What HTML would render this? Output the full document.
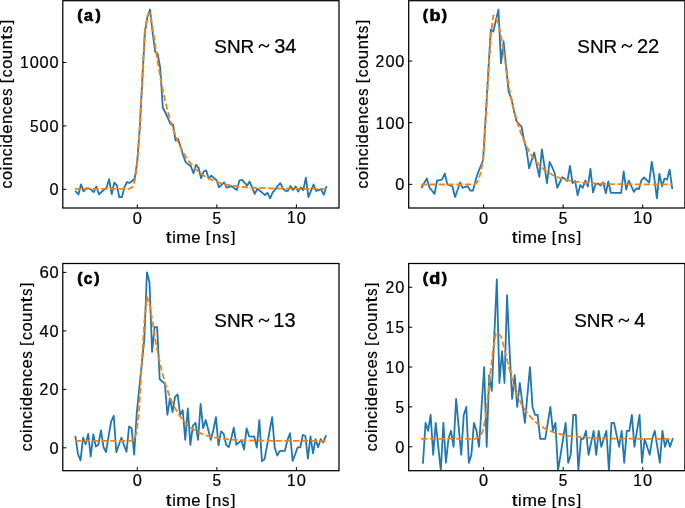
<!DOCTYPE html>
<html><head><meta charset="utf-8"><title>Coincidence histograms</title>
<style>html,body{margin:0;padding:0;background:#fff;}svg{display:block;will-change:transform;}text{font-family:"Liberation Sans",sans-serif;}</style>
</head><body>
<svg width="685" height="508" viewBox="0 0 685 508">
<rect width="685" height="508" fill="#fff"/>
<defs>
<clipPath id="clipa"><rect x="62.8" y="0.7" width="276.2" height="207.3"/></clipPath>
<clipPath id="clipb"><rect x="408.7" y="0.7" width="276.2" height="207.3"/></clipPath>
<clipPath id="clipc"><rect x="62.8" y="263.5" width="276.2" height="207.2"/></clipPath>
<clipPath id="clipd"><rect x="408.7" y="263.5" width="276.2" height="207.2"/></clipPath>
</defs>
<g clip-path="url(#clipa)">
<polyline points="75.9,191.6 78.46,194.5 81.01,184.3 83.57,191.4 86.12,188.2 88.68,188.3 91.23,189.8 93.79,192.2 96.34,186.5 98.9,194.2 101.45,192 104.01,189.8 106.56,187.7 109.12,179.2 111.67,194.2 114.23,182.7 116.78,185.1 119.34,197.2 121.89,197.2 124.45,187.1 127,182 129.56,183 132.11,181 134.67,178.5 137.22,162 139.78,128 142.33,80 144.88,32 147.44,17 150,9.5 152.55,32 155.11,51.5 157.66,54 160.22,68 162.77,107.5 165.33,112.5 167.88,118 170.44,124 172.99,124.3 175.55,140.5 178.1,139 180.66,147 183.21,155.5 185.77,162.4 188.32,164.4 190.88,166.3 193.43,173.2 195.99,164.8 198.54,167.8 201.1,178.3 203.65,171.5 206.21,170.4 208.76,178.7 211.32,175.6 213.87,177.9 216.43,180 218.98,187.3 221.54,184.8 224.09,182.4 226.65,187.6 229.2,186.9 231.76,186.2 234.31,188.3 236.87,190.1 239.42,180.5 241.98,179.8 244.53,182.7 247.09,185.7 249.64,181.5 252.2,187.7 254.75,193.9 257.31,188.8 259.86,190.8 262.42,192.9 264.97,195 267.52,192.8 270.08,198.4 272.63,192.5 275.19,189.4 277.75,186 280.3,183.2 282.86,188.4 285.41,190.8 287.97,190.8 290.52,186 293.08,190.1 295.63,186.5 298.19,191.5 300.74,187.4 303.3,190 305.85,177.6 308.41,197.2 310.96,190.8 313.51,184.5 316.07,191 318.62,190.1 321.18,189.2 323.74,194.8 326.29,187.1" fill="none" stroke="#1f77b4" stroke-width="1.8" stroke-linejoin="round" stroke-linecap="square"/>
<polyline points="74.9,188.87 75.9,188.87 78.46,188.87 81.01,188.87 83.57,188.87 86.12,188.87 88.68,188.87 91.23,188.87 93.79,188.87 96.34,188.87 98.9,188.87 101.45,188.87 104.01,188.87 106.56,188.87 109.12,188.87 111.67,188.87 114.23,188.87 116.78,188.87 119.34,188.87 121.89,188.87 124.45,188.87 127,188.84 129.56,188.63 132.11,187.27 134.67,181.32 137.22,163.51 139.78,127.14 142.33,77.2 144.88,30 147.44,15.5 150,13.3 152.55,27.53 155.11,45.06 157.66,61.75 160.22,76.67 162.77,89.86 165.33,101.51 167.88,111.78 170.44,120.85 172.99,128.85 175.55,135.9 178.1,142.13 180.66,147.63 183.21,152.48 185.77,156.76 188.32,160.53 190.88,163.87 193.43,166.81 195.99,169.4 198.54,171.69 201.1,173.71 203.65,175.49 206.21,177.07 208.76,178.45 211.32,179.68 213.87,180.76 216.43,181.71 218.98,182.55 221.54,183.3 224.09,183.95 226.65,184.53 229.2,185.04 231.76,185.49 234.31,185.89 236.87,186.24 239.42,186.55 241.98,186.82 244.53,187.06 247.09,187.27 249.64,187.46 252.2,187.63 254.75,187.77 257.31,187.9 259.86,188.01 262.42,188.12 264.97,188.2 267.52,188.28 270.08,188.35 272.63,188.41 275.19,188.47 277.75,188.51 280.3,188.55 282.86,188.59 285.41,188.62 287.97,188.65 290.52,188.68 293.08,188.7 295.63,188.72 298.19,188.74 300.74,188.75 303.3,188.77 305.85,188.78 308.41,188.79 310.96,188.8 313.51,188.81 316.07,188.81 318.62,188.82 321.18,188.83 323.74,188.83 326.29,188.83" fill="none" stroke="#ff7f0e" stroke-width="1.8" stroke-dasharray="6.1 2.7" stroke-linejoin="round"/>
</g>
<g clip-path="url(#clipb)">
<polyline points="421.8,187.2 424.36,182.8 426.91,178.5 429.47,187.6 432.02,190.7 434.57,193.9 437.13,180.5 439.69,180.1 442.24,179.3 444.8,173.4 447.35,184.4 449.91,185.5 452.46,186.5 455.01,197 457.57,190 460.12,182.4 462.68,188 465.24,186.8 467.79,186.4 470.35,190.7 472.9,190.7 475.46,181 478.01,172.6 480.56,166.5 483.12,160 485.68,117 488.23,73 490.79,29.6 493.34,31.6 495.89,20.4 498.45,9.6 501,63.3 503.56,41.5 506.12,66.6 508.67,92.2 511.23,98.1 513.78,110 516.34,120.7 518.89,123.8 521.45,126.5 524,140 526.56,150 529.11,168.3 531.66,160 534.22,152.5 536.77,165 539.33,176.9 541.88,149.4 544.44,166 547,183.2 549.55,162 552.11,167 554.66,173 557.22,187.9 559.77,182.5 562.33,177.1 564.88,179 567.44,181 569.99,165.8 572.55,183 575.1,181 577.65,195.3 580.21,185 582.76,187.9 585.32,180.5 587.88,186.5 590.43,168.7 592.99,192.4 595.54,184.5 598.1,183.5 600.65,185.5 603.21,182.5 605.76,193.3 608.32,181.5 610.87,192.9 613.42,192.9 615.98,192.9 618.54,192.9 621.09,193 623.64,171.3 626.2,189.5 628.75,180.7 631.31,186 633.87,191.9 636.42,188.4 638.98,189 641.53,180.1 644.09,177.5 646.64,180.1 649.2,182.5 651.75,161.8 654.31,178 656.86,198.3 659.41,173.9 661.97,186.4 664.53,178.5 667.08,179.5 669.63,169.7 672.19,188.3" fill="none" stroke="#1f77b4" stroke-width="1.8" stroke-linejoin="round" stroke-linecap="square"/>
<polyline points="421.1,184.48 421.8,184.48 424.36,184.48 426.91,184.48 429.47,184.48 432.02,184.48 434.57,184.48 437.13,184.48 439.69,184.48 442.24,184.48 444.8,184.48 447.35,184.48 449.91,184.48 452.46,184.48 455.01,184.48 457.57,184.48 460.12,184.48 462.68,184.48 465.24,184.48 467.79,184.48 470.35,184.46 472.9,184.35 475.46,183.75 478.01,181.18 480.56,173.04 483.12,159.5 485.68,119.81 488.23,75.96 490.79,35.78 493.34,15.5 495.89,17.5 498.45,24 501,35.5 503.56,51 506.12,68 508.67,86.05 511.23,98.55 513.78,109.46 516.34,118.99 518.89,127.31 521.45,134.57 524,140.9 526.56,146.44 529.11,151.27 531.66,155.49 534.22,159.17 536.77,162.38 539.33,165.19 541.88,167.64 544.44,169.78 547,171.64 549.55,173.27 552.11,174.7 554.66,175.94 557.22,177.02 559.77,177.97 562.33,178.8 564.88,179.52 567.44,180.15 569.99,180.7 572.55,181.18 575.1,181.6 577.65,181.96 580.21,182.28 582.76,182.56 585.32,182.8 587.88,183.02 590.43,183.2 592.99,183.36 595.54,183.51 598.1,183.63 600.65,183.74 603.21,183.83 605.76,183.91 608.32,183.98 610.87,184.05 613.42,184.1 615.98,184.15 618.54,184.19 621.09,184.23 623.64,184.26 626.2,184.29 628.75,184.31 631.31,184.33 633.87,184.35 636.42,184.37 638.98,184.38 641.53,184.39 644.09,184.4 646.64,184.41 649.2,184.42 651.75,184.43 654.31,184.44 656.86,184.44 659.41,184.45 661.97,184.45 664.53,184.45 667.08,184.46 669.63,184.46 672.19,184.46" fill="none" stroke="#ff7f0e" stroke-width="1.8" stroke-dasharray="6.1 2.7" stroke-linejoin="round"/>
</g>
<g clip-path="url(#clipc)">
<polyline points="75.4,436.7 77.96,454 80.51,460.4 83.07,437.7 85.62,444.1 88.18,433.8 90.73,456.5 93.29,434.3 95.84,446.6 98.4,444.5 100.95,430.4 103.51,447 106.06,452.1 108.62,436 111.17,421.5 113.73,415.8 116.28,452.1 118.84,445 121.39,437.7 123.95,445 126.5,451.9 129.06,426.5 131.61,428.3 134.17,454.7 136.72,413.3 139.28,388 141.83,363.6 144.38,338.4 146.94,272.3 149.5,282.3 152.05,351.8 154.61,327.2 157.16,327.2 159.72,379.3 162.27,381.5 164.83,383.8 167.38,414.8 169.94,398.3 172.49,412.1 175.05,396.9 177.6,394.5 180.16,415 182.71,410.2 185.27,439.8 187.82,408.5 190.38,444.9 192.93,425.5 195.49,422.8 198.04,439.8 200.6,404 203.15,428.2 205.71,420 208.26,429.8 210.82,439.8 213.37,430 215.93,417.2 218.48,445.4 221.04,431.3 223.59,433.6 226.15,444.8 228.7,447.2 231.26,438.3 233.81,427.7 236.37,444.8 238.92,442.5 241.48,440.1 244.03,449.6 246.59,428.3 249.14,436.3 251.7,436.6 254.25,436.4 256.81,447.5 259.36,420.1 261.92,461.1 264.47,459.3 267.02,446 269.58,431 272.13,417.1 274.69,447.5 277.25,455.6 279.8,450.8 282.36,450.8 284.91,450.8 287.47,440 290.02,433.3 292.58,460.9 295.13,454.4 297.69,447.3 300.24,447.3 302.8,434.9 305.35,436 307.91,458.7 310.46,436.5 313.01,453.3 315.57,439.2 318.12,447.3 320.68,439.2 323.24,442.5 325.79,436" fill="none" stroke="#1f77b4" stroke-width="1.8" stroke-linejoin="round" stroke-linecap="square"/>
<polyline points="75,440.92 75.4,440.92 77.96,440.92 80.51,440.92 83.07,440.92 85.62,440.92 88.18,440.92 90.73,440.92 93.29,440.92 95.84,440.92 98.4,440.92 100.95,440.92 103.51,440.92 106.06,440.92 108.62,440.92 111.17,440.92 113.73,440.92 116.28,440.92 118.84,440.92 121.39,440.92 123.95,440.92 126.5,440.92 129.06,440.91 131.61,440.76 134.17,439.38 136.72,431.67 139.28,406.97 141.83,361.95 144.38,322 146.94,296.5 149.5,303.83 152.05,319.44 154.61,335.56 157.16,349.86 159.72,362.23 162.27,372.93 164.83,382.17 167.38,390.16 169.94,397.06 172.49,403.02 175.05,408.17 177.6,412.63 180.16,416.47 182.71,419.8 185.27,422.67 187.82,425.15 190.38,427.29 192.93,429.14 195.49,430.74 198.04,432.13 200.6,433.32 203.15,434.35 205.71,435.25 208.26,436.02 210.82,436.68 213.37,437.26 215.93,437.76 218.48,438.19 221.04,438.56 223.59,438.88 226.15,439.16 228.7,439.39 231.26,439.6 233.81,439.78 236.37,439.93 238.92,440.07 241.48,440.18 244.03,440.28 246.59,440.37 249.14,440.44 251.7,440.51 254.25,440.56 256.81,440.61 259.36,440.65 261.92,440.69 264.47,440.72 267.02,440.75 269.58,440.77 272.13,440.79 274.69,440.81 277.25,440.82 279.8,440.83 282.36,440.85 284.91,440.86 287.47,440.86 290.02,440.87 292.58,440.88 295.13,440.88 297.69,440.89 300.24,440.89 302.8,440.89 305.35,440.9 307.91,440.9 310.46,440.9 313.01,440.9 315.57,440.91 318.12,440.91 320.68,440.91 323.24,440.91 325.79,440.91" fill="none" stroke="#ff7f0e" stroke-width="1.8" stroke-dasharray="6.1 2.7" stroke-linejoin="round"/>
</g>
<g clip-path="url(#clipd)">
<polyline points="423,462.75 425.55,422.88 428.09,430.85 430.64,414.9 433.19,454.78 435.74,422.88 438.28,446.8 440.83,470.73 443.38,422.88 445.92,462.75 448.47,438.82 451.02,430.85 453.56,446.8 456.11,398.95 458.66,426.86 461.2,454.78 463.75,414.9 466.3,406.93 468.85,462.75 471.39,454.78 473.94,422.88 476.49,430.85 479.03,446.8 481.58,406.93 484.13,367.05 486.68,446.8 489.22,375.03 491.77,390.98 494.32,335.15 496.86,279.33 499.41,383 501.96,351.1 504.5,383 507.05,295.27 509.6,351.1 512.14,398.95 514.69,375.03 517.24,406.93 519.79,383 522.33,402.94 524.88,422.88 527.43,394.96 529.97,367.05 532.52,406.93 535.07,414.9 537.62,414.9 540.16,438.82 542.71,438.82 545.26,438.82 547.8,422.88 550.35,406.93 552.9,430.85 555.44,422.88 557.99,470.73 560.54,454.78 563.09,438.82 565.63,422.88 568.18,462.75 570.73,454.78 573.27,414.9 575.82,414.9 578.37,470.73 580.91,438.82 583.46,438.82 586.01,430.85 588.56,454.78 591.1,442.81 593.65,430.85 596.2,454.78 598.74,430.85 601.29,446.8 603.84,438.82 606.38,430.85 608.93,470.73 611.48,422.88 614.02,422.88 616.57,434.84 619.12,446.8 621.67,430.85 624.21,462.75 626.76,430.85 629.31,430.85 631.85,414.9 634.4,446.8 636.95,430.85 639.5,414.9 642.04,462.75 644.59,438.82 647.14,446.8 649.68,454.78 652.23,438.82 654.78,430.85 657.32,446.8 659.87,462.75 662.42,430.85 664.97,446.8 667.51,438.82 670.06,446.8 672.61,438.82" fill="none" stroke="#1f77b4" stroke-width="1.8" stroke-linejoin="round" stroke-linecap="square"/>
<polyline points="421.1,438.84 421.8,438.84 424.36,438.84 426.91,438.84 429.47,438.84 432.02,438.84 434.57,438.84 437.13,438.84 439.69,438.84 442.24,438.84 444.8,438.84 447.35,438.84 449.91,438.84 452.46,438.84 455.01,438.84 457.57,438.84 460.12,438.84 462.68,438.84 465.24,438.84 467.79,438.84 470.35,438.84 472.9,438.82 475.46,438.71 478.01,438.15 480.56,436.05 483.12,430.02 485.68,416.92 488.23,392 490.79,369.77 493.34,347.55 495.89,333.3 498.45,333.6 501,336.5 503.56,345.5 506.12,356.5 508.67,366 511.23,376 513.78,385.5 516.34,393.54 518.89,399.13 521.45,404.02 524,408.32 526.56,412.08 529.11,415.38 531.66,418.27 534.22,420.81 536.77,423.03 539.33,424.98 541.88,426.69 544.44,428.19 547,429.5 549.55,430.65 552.11,431.66 554.66,432.55 557.22,433.32 559.77,434 562.33,434.6 564.88,435.12 567.44,435.58 569.99,435.98 572.55,436.34 575.1,436.64 577.65,436.91 580.21,437.15 582.76,437.36 585.32,437.54 587.88,437.7 590.43,437.84 592.99,437.97 595.54,438.07 598.1,438.17 600.65,438.25 603.21,438.32 605.76,438.39 608.32,438.44 610.87,438.49 613.42,438.53 615.98,438.57 618.54,438.6 621.09,438.63 623.64,438.66 626.2,438.68 628.75,438.7 631.31,438.72 633.87,438.73 636.42,438.75 638.98,438.76 641.53,438.77 644.09,438.78 646.64,438.78 649.2,438.79 651.75,438.8 654.31,438.8 656.86,438.81 659.41,438.81 661.97,438.81 664.53,438.82 667.08,438.82 669.63,438.82 672.19,438.82" fill="none" stroke="#ff7f0e" stroke-width="1.8" stroke-dasharray="6.1 2.7" stroke-linejoin="round"/>
</g>
<rect x="62.8" y="0.7" width="276.2" height="207.3" fill="none" stroke="#000" stroke-width="1.25"/>
<line x1="137.3" y1="208" x2="137.3" y2="204.4" stroke="#000" stroke-width="1.0"/>
<line x1="216.85" y1="208" x2="216.85" y2="204.4" stroke="#000" stroke-width="1.0"/>
<line x1="296.4" y1="208" x2="296.4" y2="204.4" stroke="#000" stroke-width="1.0"/>
<line x1="62.8" y1="189.3" x2="66.4" y2="189.3" stroke="#000" stroke-width="1.0"/>
<line x1="62.8" y1="125.9" x2="66.4" y2="125.9" stroke="#000" stroke-width="1.0"/>
<line x1="62.8" y1="62.5" x2="66.4" y2="62.5" stroke="#000" stroke-width="1.0"/>
<rect x="408.7" y="0.7" width="276.2" height="207.3" fill="none" stroke="#000" stroke-width="1.25"/>
<line x1="483.6" y1="208" x2="483.6" y2="204.4" stroke="#000" stroke-width="1.0"/>
<line x1="563.15" y1="208" x2="563.15" y2="204.4" stroke="#000" stroke-width="1.0"/>
<line x1="642.7" y1="208" x2="642.7" y2="204.4" stroke="#000" stroke-width="1.0"/>
<line x1="408.7" y1="184.35" x2="412.3" y2="184.35" stroke="#000" stroke-width="1.0"/>
<line x1="408.7" y1="122.7" x2="412.3" y2="122.7" stroke="#000" stroke-width="1.0"/>
<line x1="408.7" y1="61.1" x2="412.3" y2="61.1" stroke="#000" stroke-width="1.0"/>
<rect x="62.8" y="263.5" width="276.2" height="207.2" fill="none" stroke="#000" stroke-width="1.25"/>
<line x1="137.3" y1="470.7" x2="137.3" y2="467.1" stroke="#000" stroke-width="1.0"/>
<line x1="216.85" y1="470.7" x2="216.85" y2="467.1" stroke="#000" stroke-width="1.0"/>
<line x1="296.4" y1="470.7" x2="296.4" y2="467.1" stroke="#000" stroke-width="1.0"/>
<line x1="62.8" y1="447.8" x2="66.4" y2="447.8" stroke="#000" stroke-width="1.0"/>
<line x1="62.8" y1="389.35" x2="66.4" y2="389.35" stroke="#000" stroke-width="1.0"/>
<line x1="62.8" y1="330.9" x2="66.4" y2="330.9" stroke="#000" stroke-width="1.0"/>
<line x1="62.8" y1="272.4" x2="66.4" y2="272.4" stroke="#000" stroke-width="1.0"/>
<rect x="408.7" y="263.5" width="276.2" height="207.2" fill="none" stroke="#000" stroke-width="1.25"/>
<line x1="483.6" y1="470.7" x2="483.6" y2="467.1" stroke="#000" stroke-width="1.0"/>
<line x1="563.15" y1="470.7" x2="563.15" y2="467.1" stroke="#000" stroke-width="1.0"/>
<line x1="642.7" y1="470.7" x2="642.7" y2="467.1" stroke="#000" stroke-width="1.0"/>
<line x1="408.7" y1="446.8" x2="412.3" y2="446.8" stroke="#000" stroke-width="1.0"/>
<line x1="408.7" y1="406.9" x2="412.3" y2="406.9" stroke="#000" stroke-width="1.0"/>
<line x1="408.7" y1="367.05" x2="412.3" y2="367.05" stroke="#000" stroke-width="1.0"/>
<line x1="408.7" y1="327.2" x2="412.3" y2="327.2" stroke="#000" stroke-width="1.0"/>
<line x1="408.7" y1="287.3" x2="412.3" y2="287.3" stroke="#000" stroke-width="1.0"/>
<g font-family="Liberation Sans, sans-serif" fill="#000" stroke="#000" stroke-width="0.22" stroke-linejoin="round">
<text transform="matrix(1 0 0 1.01 132.75 223.51)" font-size="16.4">0</text>
<text transform="matrix(0.94 0 0 1.01 212.5 223.51)" font-size="16.4">5</text>
<text transform="matrix(0.95 0 0 1 287.05 223.45)" font-size="16.4">1</text>
<text transform="matrix(1 0 0 1.01 296.78 223.51)" font-size="16.4">0</text>
<text transform="matrix(1 0 0 1.01 49.42 195.21)" font-size="16.4">0</text>
<text transform="matrix(0.94 0 0 1.01 29.89 131.81)" font-size="16.4">5</text>
<text transform="matrix(1 0 0 1.01 39.56 131.81)" font-size="16.4">0</text>
<text transform="matrix(1 0 0 1.01 49.42 131.81)" font-size="16.4">0</text>
<text transform="matrix(0.95 0 0 1 19.97 68.35)" font-size="16.4">1</text>
<text transform="matrix(1 0 0 1.01 29.7 68.41)" font-size="16.4">0</text>
<text transform="matrix(1 0 0 1.01 39.56 68.41)" font-size="16.4">0</text>
<text transform="matrix(1 0 0 1.01 49.42 68.41)" font-size="16.4">0</text>
<text transform="matrix(1.26 0 0 1.01 165.78 242.82)" font-size="16.4">t</text>
<text transform="matrix(0.97 0 0 0.99 172.16 242.95)" font-size="16.4">i</text>
<text transform="matrix(1.08 0 0 0.98 176.3 242.95)" font-size="16.4">m</text>
<text transform="matrix(1.02 0 0 0.99 191.31 243.01)" font-size="16.4">e</text>
<text transform="matrix(0.98 0 0 0.9 205.81 241.92)" font-size="16.4">[</text>
<text transform="matrix(1.02 0 0 0.98 211.97 242.95)" font-size="16.4">n</text>
<text transform="matrix(0.91 0 0 0.99 221.92 243.01)" font-size="16.4">s</text>
<text transform="matrix(0.98 0 0 0.9 230.95 241.92)" font-size="16.4">]</text>
<text transform="matrix(0 -0.95 0.99 0 11.91 188.48)" font-size="16.4">c</text>
<text transform="matrix(0 -1 0.99 0 11.91 179.99)" font-size="16.4">o</text>
<text transform="matrix(0 -0.97 0.99 0 11.85 170.27)" font-size="16.4">i</text>
<text transform="matrix(0 -1.02 0.98 0 11.85 166.06)" font-size="16.4">n</text>
<text transform="matrix(0 -0.95 0.99 0 11.91 156.34)" font-size="16.4">c</text>
<text transform="matrix(0 -0.97 0.99 0 11.85 147.61)" font-size="16.4">i</text>
<text transform="matrix(0 -1.03 1 0 11.91 143.56)" font-size="16.4">d</text>
<text transform="matrix(0 -1.02 0.99 0 11.91 133.73)" font-size="16.4">e</text>
<text transform="matrix(0 -1.02 0.98 0 11.85 124.04)" font-size="16.4">n</text>
<text transform="matrix(0 -0.95 0.99 0 11.91 114.32)" font-size="16.4">c</text>
<text transform="matrix(0 -1.02 0.99 0 11.91 105.84)" font-size="16.4">e</text>
<text transform="matrix(0 -0.91 0.99 0 11.91 96.03)" font-size="16.4">s</text>
<text transform="matrix(0 -0.98 0.9 0 10.82 83.27)" font-size="16.4">[</text>
<text transform="matrix(0 -0.95 0.99 0 11.91 77.21)" font-size="16.4">c</text>
<text transform="matrix(0 -1 0.99 0 11.91 68.72)" font-size="16.4">o</text>
<text transform="matrix(0 -1.02 1.01 0 11.91 59.17)" font-size="16.4">u</text>
<text transform="matrix(0 -1.02 0.98 0 11.85 49.28)" font-size="16.4">n</text>
<text transform="matrix(0 -1.26 1.01 0 11.72 39.65)" font-size="16.4">t</text>
<text transform="matrix(0 -0.91 0.99 0 11.91 33.25)" font-size="16.4">s</text>
<text transform="matrix(0 -0.98 0.9 0 10.82 24.22)" font-size="16.4">]</text>
<text transform="matrix(0.97 0 0 0.9 77.2 20.13)" font-size="16.4" font-weight="bold" stroke-width="0.65">(</text>
<text transform="matrix(0.98 0 0 0.99 83.95 21.22)" font-size="16.4" font-weight="bold" stroke-width="0.65">a</text>
<text transform="matrix(0.97 0 0 0.9 95.44 20.13)" font-size="16.4" font-weight="bold" stroke-width="0.65">)</text>
<text transform="matrix(1 0 0 1.01 479.05 223.51)" font-size="16.4">0</text>
<text transform="matrix(0.94 0 0 1.01 558.8 223.51)" font-size="16.4">5</text>
<text transform="matrix(0.95 0 0 1 633.35 223.45)" font-size="16.4">1</text>
<text transform="matrix(1 0 0 1.01 643.08 223.51)" font-size="16.4">0</text>
<text transform="matrix(1 0 0 1.01 395.32 190.26)" font-size="16.4">0</text>
<text transform="matrix(0.95 0 0 1 375.73 128.55)" font-size="16.4">1</text>
<text transform="matrix(1 0 0 1.01 385.46 128.61)" font-size="16.4">0</text>
<text transform="matrix(1 0 0 1.01 395.32 128.61)" font-size="16.4">0</text>
<text transform="matrix(0.96 0 0 1 375.56 66.95)" font-size="16.4">2</text>
<text transform="matrix(1 0 0 1.01 385.46 67.01)" font-size="16.4">0</text>
<text transform="matrix(1 0 0 1.01 395.32 67.01)" font-size="16.4">0</text>
<text transform="matrix(1.26 0 0 1.01 511.68 242.82)" font-size="16.4">t</text>
<text transform="matrix(0.97 0 0 0.99 518.06 242.95)" font-size="16.4">i</text>
<text transform="matrix(1.08 0 0 0.98 522.2 242.95)" font-size="16.4">m</text>
<text transform="matrix(1.02 0 0 0.99 537.21 243.01)" font-size="16.4">e</text>
<text transform="matrix(0.98 0 0 0.9 551.71 241.92)" font-size="16.4">[</text>
<text transform="matrix(1.02 0 0 0.98 557.87 242.95)" font-size="16.4">n</text>
<text transform="matrix(0.91 0 0 0.99 567.82 243.01)" font-size="16.4">s</text>
<text transform="matrix(0.98 0 0 0.9 576.85 241.92)" font-size="16.4">]</text>
<text transform="matrix(0 -0.95 0.99 0 367.81 188.48)" font-size="16.4">c</text>
<text transform="matrix(0 -1 0.99 0 367.81 179.99)" font-size="16.4">o</text>
<text transform="matrix(0 -0.97 0.99 0 367.75 170.27)" font-size="16.4">i</text>
<text transform="matrix(0 -1.02 0.98 0 367.75 166.06)" font-size="16.4">n</text>
<text transform="matrix(0 -0.95 0.99 0 367.81 156.34)" font-size="16.4">c</text>
<text transform="matrix(0 -0.97 0.99 0 367.75 147.61)" font-size="16.4">i</text>
<text transform="matrix(0 -1.03 1 0 367.81 143.56)" font-size="16.4">d</text>
<text transform="matrix(0 -1.02 0.99 0 367.81 133.73)" font-size="16.4">e</text>
<text transform="matrix(0 -1.02 0.98 0 367.75 124.04)" font-size="16.4">n</text>
<text transform="matrix(0 -0.95 0.99 0 367.81 114.32)" font-size="16.4">c</text>
<text transform="matrix(0 -1.02 0.99 0 367.81 105.84)" font-size="16.4">e</text>
<text transform="matrix(0 -0.91 0.99 0 367.81 96.03)" font-size="16.4">s</text>
<text transform="matrix(0 -0.98 0.9 0 366.72 83.27)" font-size="16.4">[</text>
<text transform="matrix(0 -0.95 0.99 0 367.81 77.21)" font-size="16.4">c</text>
<text transform="matrix(0 -1 0.99 0 367.81 68.72)" font-size="16.4">o</text>
<text transform="matrix(0 -1.02 1.01 0 367.81 59.17)" font-size="16.4">u</text>
<text transform="matrix(0 -1.02 0.98 0 367.75 49.28)" font-size="16.4">n</text>
<text transform="matrix(0 -1.26 1.01 0 367.62 39.65)" font-size="16.4">t</text>
<text transform="matrix(0 -0.91 0.99 0 367.81 33.25)" font-size="16.4">s</text>
<text transform="matrix(0 -0.98 0.9 0 366.72 24.22)" font-size="16.4">]</text>
<text transform="matrix(0.97 0 0 0.9 422.8 20.15)" font-size="16.4" font-weight="bold" stroke-width="0.65">(</text>
<text transform="matrix(1.1 0 0 1 429.46 21.24)" font-size="16.4" font-weight="bold" stroke-width="0.65">b</text>
<text transform="matrix(0.97 0 0 0.9 441.67 20.15)" font-size="16.4" font-weight="bold" stroke-width="0.65">)</text>
<text transform="matrix(1 0 0 1.01 132.75 486.26)" font-size="16.4">0</text>
<text transform="matrix(0.94 0 0 1.01 212.5 486.26)" font-size="16.4">5</text>
<text transform="matrix(0.95 0 0 1 287.05 486.2)" font-size="16.4">1</text>
<text transform="matrix(1 0 0 1.01 296.78 486.26)" font-size="16.4">0</text>
<text transform="matrix(1 0 0 1.01 49.42 453.71)" font-size="16.4">0</text>
<text transform="matrix(0.96 0 0 1 39.52 395.2)" font-size="16.4">2</text>
<text transform="matrix(1 0 0 1.01 49.42 395.26)" font-size="16.4">0</text>
<text transform="matrix(1 0 0 1 39.56 336.75)" font-size="16.4">4</text>
<text transform="matrix(1 0 0 1.01 49.42 336.81)" font-size="16.4">0</text>
<text transform="matrix(1.03 0 0 1.01 39.4 278.31)" font-size="16.4">6</text>
<text transform="matrix(1 0 0 1.01 49.42 278.31)" font-size="16.4">0</text>
<text transform="matrix(1.26 0 0 1.01 165.78 505.57)" font-size="16.4">t</text>
<text transform="matrix(0.97 0 0 0.99 172.16 505.7)" font-size="16.4">i</text>
<text transform="matrix(1.08 0 0 0.98 176.3 505.7)" font-size="16.4">m</text>
<text transform="matrix(1.02 0 0 0.99 191.31 505.76)" font-size="16.4">e</text>
<text transform="matrix(0.98 0 0 0.9 205.81 504.67)" font-size="16.4">[</text>
<text transform="matrix(1.02 0 0 0.98 211.97 505.7)" font-size="16.4">n</text>
<text transform="matrix(0.91 0 0 0.99 221.92 505.76)" font-size="16.4">s</text>
<text transform="matrix(0.98 0 0 0.9 230.95 504.67)" font-size="16.4">]</text>
<text transform="matrix(0 -0.95 0.99 0 31.91 451.23)" font-size="16.4">c</text>
<text transform="matrix(0 -1 0.99 0 31.91 442.74)" font-size="16.4">o</text>
<text transform="matrix(0 -0.97 0.99 0 31.85 433.02)" font-size="16.4">i</text>
<text transform="matrix(0 -1.02 0.98 0 31.85 428.81)" font-size="16.4">n</text>
<text transform="matrix(0 -0.95 0.99 0 31.91 419.09)" font-size="16.4">c</text>
<text transform="matrix(0 -0.97 0.99 0 31.85 410.36)" font-size="16.4">i</text>
<text transform="matrix(0 -1.03 1 0 31.91 406.31)" font-size="16.4">d</text>
<text transform="matrix(0 -1.02 0.99 0 31.91 396.48)" font-size="16.4">e</text>
<text transform="matrix(0 -1.02 0.98 0 31.85 386.79)" font-size="16.4">n</text>
<text transform="matrix(0 -0.95 0.99 0 31.91 377.07)" font-size="16.4">c</text>
<text transform="matrix(0 -1.02 0.99 0 31.91 368.59)" font-size="16.4">e</text>
<text transform="matrix(0 -0.91 0.99 0 31.91 358.78)" font-size="16.4">s</text>
<text transform="matrix(0 -0.98 0.9 0 30.82 346.02)" font-size="16.4">[</text>
<text transform="matrix(0 -0.95 0.99 0 31.91 339.96)" font-size="16.4">c</text>
<text transform="matrix(0 -1 0.99 0 31.91 331.47)" font-size="16.4">o</text>
<text transform="matrix(0 -1.02 1.01 0 31.91 321.92)" font-size="16.4">u</text>
<text transform="matrix(0 -1.02 0.98 0 31.85 312.03)" font-size="16.4">n</text>
<text transform="matrix(0 -1.26 1.01 0 31.72 302.4)" font-size="16.4">t</text>
<text transform="matrix(0 -0.91 0.99 0 31.91 296)" font-size="16.4">s</text>
<text transform="matrix(0 -0.98 0.9 0 30.82 286.97)" font-size="16.4">]</text>
<text transform="matrix(0.97 0 0 0.9 77.2 282.98)" font-size="16.4" font-weight="bold" stroke-width="0.65">(</text>
<text transform="matrix(0.94 0 0 0.99 83.82 284.07)" font-size="16.4" font-weight="bold" stroke-width="0.65">c</text>
<text transform="matrix(0.97 0 0 0.9 94.17 282.98)" font-size="16.4" font-weight="bold" stroke-width="0.65">)</text>
<text transform="matrix(1 0 0 1.01 479.05 486.26)" font-size="16.4">0</text>
<text transform="matrix(0.94 0 0 1.01 558.8 486.26)" font-size="16.4">5</text>
<text transform="matrix(0.95 0 0 1 633.35 486.2)" font-size="16.4">1</text>
<text transform="matrix(1 0 0 1.01 643.08 486.26)" font-size="16.4">0</text>
<text transform="matrix(1 0 0 1.01 395.32 452.71)" font-size="16.4">0</text>
<text transform="matrix(0.94 0 0 1.01 395.52 412.81)" font-size="16.4">5</text>
<text transform="matrix(0.95 0 0 1 385.59 372.9)" font-size="16.4">1</text>
<text transform="matrix(1 0 0 1.01 395.32 372.96)" font-size="16.4">0</text>
<text transform="matrix(0.95 0 0 1 385.59 333.05)" font-size="16.4">1</text>
<text transform="matrix(0.94 0 0 1.01 395.52 333.11)" font-size="16.4">5</text>
<text transform="matrix(0.96 0 0 1 385.42 293.15)" font-size="16.4">2</text>
<text transform="matrix(1 0 0 1.01 395.32 293.21)" font-size="16.4">0</text>
<text transform="matrix(1.26 0 0 1.01 511.68 505.57)" font-size="16.4">t</text>
<text transform="matrix(0.97 0 0 0.99 518.06 505.7)" font-size="16.4">i</text>
<text transform="matrix(1.08 0 0 0.98 522.2 505.7)" font-size="16.4">m</text>
<text transform="matrix(1.02 0 0 0.99 537.21 505.76)" font-size="16.4">e</text>
<text transform="matrix(0.98 0 0 0.9 551.71 504.67)" font-size="16.4">[</text>
<text transform="matrix(1.02 0 0 0.98 557.87 505.7)" font-size="16.4">n</text>
<text transform="matrix(0.91 0 0 0.99 567.82 505.76)" font-size="16.4">s</text>
<text transform="matrix(0.98 0 0 0.9 576.85 504.67)" font-size="16.4">]</text>
<text transform="matrix(0 -0.95 0.99 0 377.21 451.23)" font-size="16.4">c</text>
<text transform="matrix(0 -1 0.99 0 377.21 442.74)" font-size="16.4">o</text>
<text transform="matrix(0 -0.97 0.99 0 377.15 433.02)" font-size="16.4">i</text>
<text transform="matrix(0 -1.02 0.98 0 377.15 428.81)" font-size="16.4">n</text>
<text transform="matrix(0 -0.95 0.99 0 377.21 419.09)" font-size="16.4">c</text>
<text transform="matrix(0 -0.97 0.99 0 377.15 410.36)" font-size="16.4">i</text>
<text transform="matrix(0 -1.03 1 0 377.21 406.31)" font-size="16.4">d</text>
<text transform="matrix(0 -1.02 0.99 0 377.21 396.48)" font-size="16.4">e</text>
<text transform="matrix(0 -1.02 0.98 0 377.15 386.79)" font-size="16.4">n</text>
<text transform="matrix(0 -0.95 0.99 0 377.21 377.07)" font-size="16.4">c</text>
<text transform="matrix(0 -1.02 0.99 0 377.21 368.59)" font-size="16.4">e</text>
<text transform="matrix(0 -0.91 0.99 0 377.21 358.78)" font-size="16.4">s</text>
<text transform="matrix(0 -0.98 0.9 0 376.12 346.02)" font-size="16.4">[</text>
<text transform="matrix(0 -0.95 0.99 0 377.21 339.96)" font-size="16.4">c</text>
<text transform="matrix(0 -1 0.99 0 377.21 331.47)" font-size="16.4">o</text>
<text transform="matrix(0 -1.02 1.01 0 377.21 321.92)" font-size="16.4">u</text>
<text transform="matrix(0 -1.02 0.98 0 377.15 312.03)" font-size="16.4">n</text>
<text transform="matrix(0 -1.26 1.01 0 377.02 302.4)" font-size="16.4">t</text>
<text transform="matrix(0 -0.91 0.99 0 377.21 296)" font-size="16.4">s</text>
<text transform="matrix(0 -0.98 0.9 0 376.12 286.97)" font-size="16.4">]</text>
<text transform="matrix(0.97 0 0 0.9 422.8 283)" font-size="16.4" font-weight="bold" stroke-width="0.65">(</text>
<text transform="matrix(1.1 0 0 1 429.31 284.09)" font-size="16.4" font-weight="bold" stroke-width="0.65">d</text>
<text transform="matrix(0.97 0 0 0.9 441.67 283)" font-size="16.4" font-weight="bold" stroke-width="0.65">)</text>
<text x="214.29" y="52.7" font-size="18.9">SNR</text>
<text transform="matrix(1.04 0 0 1 274.14 52.7)" font-size="19.3">34</text>
<path d="M259.3 47.2C259.9 44.8 261.8 43.9 263.8 45.5C265.5 46.9 267.6 47.9 268.6 44.7" fill="none" stroke="#000" stroke-width="1.45" stroke-linecap="round"/>
<text x="577.29" y="52.7" font-size="18.9">SNR</text>
<text transform="matrix(1.04 0 0 1 636.89 52.7)" font-size="19.3">22</text>
<path d="M622.3 47.2C622.9 44.8 624.8 43.9 626.8 45.5C628.5 46.9 630.6 47.9 631.6 44.7" fill="none" stroke="#000" stroke-width="1.45" stroke-linecap="round"/>
<text x="214.29" y="327.2" font-size="18.9">SNR</text>
<text transform="matrix(1.04 0 0 1 273.37 327.2)" font-size="19.3">13</text>
<path d="M259.3 321.7C259.9 319.3 261.8 318.4 263.8 320C265.5 321.4 267.6 322.4 268.6 319.2" fill="none" stroke="#000" stroke-width="1.45" stroke-linecap="round"/>
<text x="574.19" y="327.2" font-size="18.9">SNR</text>
<text transform="matrix(1.04 0 0 1 634.34 327.2)" font-size="19.3">4</text>
<path d="M619.2 321.7C619.8 319.3 621.7 318.4 623.7 320C625.4 321.4 627.5 322.4 628.5 319.2" fill="none" stroke="#000" stroke-width="1.45" stroke-linecap="round"/>
</g>
</svg>
</body></html>
